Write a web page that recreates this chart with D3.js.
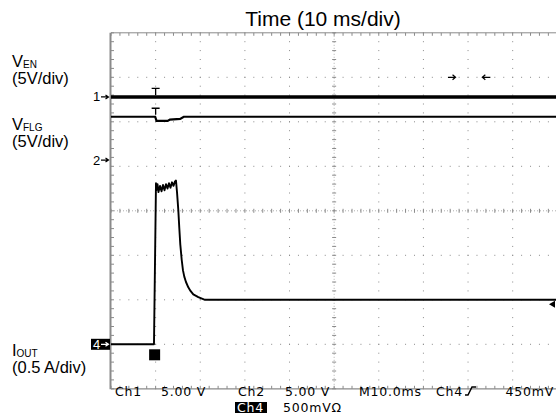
<!DOCTYPE html>
<html>
<head>
<meta charset="utf-8">
<script src="https://cdn.jsdelivr.net/npm/d3@7"></script>
<style>
  html, body { margin: 0; padding: 0; background: #fff; }
  svg { display: block; }
</style>
</head>
<body>
<svg id="chart" width="556" height="420"></svg>
<script>
// ---------------- DATA ----------------
const titleText = "Time (10 ms/div)";
const timeDomainMs = [-10, 90];          // 10 ms/div, 10 divisions, trigger at 0
const divDomain = [-4, 4];               // 8 vertical divisions

// Channel labels
const chLabels = [
  { main: "V", sub: "EN",  scale: "(5V/div)" },
  { main: "V", sub: "FLG", scale: "(5V/div)" },
  { main: "I", sub: "OUT", scale: "(0.5 A/div)" }
];

// Channel settings (reference level in divisions, units per division)
const ch1Ref = 2.56, ch1PerDiv = 5;      // V_EN
const ch2Ref = 1.14, ch2PerDiv = 5;      // V_FLG
const ch4Ref = -3.0, ch4PerDiv = 0.5;    // I_OUT

// V_EN trace (time ms, volts)
const venTime = [-10, 0, 90];
const venVolt = [0.0, 0.0, 0.0];

// V_FLG trace (time ms, volts)
const vflgTime = [-10, -0.1, 0.2, 2.7, 3.2, 5.5, 6.3, 90];
const vflgVolt = [4.87, 4.87, 4.40, 4.40, 4.55, 4.62, 4.87, 4.87];

// I_OUT trace (time ms, amps)
const ioutTime = [-10, -0.37, 0.08, 0.15, 0.42, 0.64, 0.98, 1.32, 1.65, 1.99, 2.32, 2.66, 2.99, 3.33, 3.67, 4.0, 4.34, 4.56,
                  4.79, 5.08, 5.30, 5.53, 5.84, 6.13, 6.42, 6.80, 7.32, 7.81, 8.44, 9.56, 11.06, 90];
const ioutAmp  = [0, 0, 1.81, 1.73, 1.80, 1.71, 1.78, 1.72, 1.79, 1.73, 1.80, 1.75, 1.81, 1.76, 1.82, 1.78, 1.83, 1.84,
                  1.71, 1.51, 1.31, 1.12, 0.95, 0.83, 0.76, 0.70, 0.64, 0.60, 0.56, 0.53, 0.50, 0.50];

const trigLevelA = 0.45;
const trigTimeMs = 0;

// Readout text
const readoutRow1 = [
  { t: "Ch1", x: 115 }, { t: "5.00 V", x: 161 }, { t: "Ch2", x: 238 }, { t: "5.00 V", x: 285 },
  { t: "M10.0ms", x: 359 }, { t: "Ch4", x: 436 }
];
const readoutTrigLevel = "450mV";
const readoutRow2 = [ { t: "Ch4", x: 237, boxed: true }, { t: "500mV\u03A9", x: 283 } ];

// ---------------- DRAW ----------------
const svg = d3.select("#chart");
const x = d3.scaleLinear().domain(timeDomainMs).range([111, 557.3]);
const y = d3.scaleLinear().domain(divDomain).range([388.8, 32.8]);
const gridCol = "#8a8a8a";

const g = svg.append("g");

// Dotted interior grid lines
const xDivs = d3.range(-10, 91, 10);
const yDivs = d3.range(-4, 5, 1);
const yMinor = d3.range(-4, 4.001, 0.2);
const xMinor = d3.range(-10, 90.001, 2);

xDivs.filter(t => t !== -10 && t !== 40 && t !== 90).forEach(t => {
  g.selectAll(null).data(yMinor).enter().append("rect")
    .attr("x", x(t) - 0.5).attr("y", d => y(d) - 0.5).attr("width", 1).attr("height", 1)
    .attr("fill", gridCol);
});
yDivs.filter(d => d !== -4 && d !== 0 && d !== 4).forEach(d => {
  g.selectAll(null).data(xMinor).enter().append("rect")
    .attr("x", t => x(t) - 0.5).attr("y", y(d) - 0.5).attr("width", 1).attr("height", 1)
    .attr("fill", gridCol);
});

// Center crosshair (dense dotted + tick marks)
g.append("line").attr("x1", x(40)).attr("x2", x(40)).attr("y1", y(4)).attr("y2", y(-4))
  .attr("stroke", "#b0b0b0").attr("stroke-width", 1).attr("stroke-dasharray", "1,2");
g.append("line").attr("x1", x(-10)).attr("x2", x(90)).attr("y1", y(0)).attr("y2", y(0))
  .attr("stroke", "#b0b0b0").attr("stroke-width", 1).attr("stroke-dasharray", "1,2");
g.selectAll(null).data(yMinor).enter().append("line")
  .attr("x1", x(40) - 2).attr("x2", x(40) + 2).attr("y1", d => y(d)).attr("y2", d => y(d))
  .attr("stroke", gridCol).attr("stroke-width", 1);
g.selectAll(null).data(xMinor).enter().append("line")
  .attr("x1", t => x(t)).attr("x2", t => x(t)).attr("y1", y(0) - 2).attr("y2", y(0) + 2)
  .attr("stroke", gridCol).attr("stroke-width", 1);

// Borders with ticks
g.append("line").attr("x1", x(-10)).attr("x2", x(90)).attr("y1", y(4)).attr("y2", y(4))
  .attr("stroke", gridCol).attr("stroke-width", 1);
g.append("line").attr("x1", x(-10)).attr("x2", x(90)).attr("y1", y(-4)).attr("y2", y(-4))
  .attr("stroke", gridCol).attr("stroke-width", 1.2);
g.append("line").attr("x1", x(-10) - 0.5).attr("x2", x(-10) - 0.5).attr("y1", y(4)).attr("y2", y(-4) + 0.5)
  .attr("stroke", gridCol).attr("stroke-width", 2);
g.selectAll(null).data(xMinor).enter().append("line")
  .attr("x1", t => x(t)).attr("x2", t => x(t)).attr("y1", y(4)).attr("y2", y(4) + 3)
  .attr("stroke", gridCol);
g.selectAll(null).data(xMinor).enter().append("line")
  .attr("x1", t => x(t)).attr("x2", t => x(t)).attr("y1", y(-4)).attr("y2", y(-4) - 3)
  .attr("stroke", gridCol);
g.selectAll(null).data(yMinor).enter().append("line")
  .attr("x1", x(-10)).attr("x2", x(-10) + 3).attr("y1", d => y(d)).attr("y2", d => y(d))
  .attr("stroke", gridCol);

// Traces
const line = d3.line();
const ch1Pts = venTime.map((t, i) => [x(t), y(ch1Ref + venVolt[i] / ch1PerDiv)]);
const ch2Pts = vflgTime.map((t, i) => [x(t), y(ch2Ref + vflgVolt[i] / ch2PerDiv)]);
const ch4Pts = ioutTime.map((t, i) => [x(t), y(ch4Ref + ioutAmp[i] / ch4PerDiv)]);

svg.append("path").attr("d", line(ch1Pts)).attr("fill", "none").attr("stroke", "#000").attr("stroke-width", 3.5);
svg.append("path").attr("d", line(ch2Pts)).attr("fill", "none").attr("stroke", "#000").attr("stroke-width", 2.2);
svg.append("path").attr("d", line(ch4Pts)).attr("fill", "none").attr("stroke", "#000").attr("stroke-width", 1.9)
  .attr("stroke-linejoin", "round");

// Trigger "T" markers on ch1, ch2 (sitting on the trace level at trigger)
[y(ch1Ref + venVolt[1] / ch1PerDiv), y(ch2Ref + vflgVolt[1] / ch2PerDiv)].forEach(ty => {
  const tx = x(trigTimeMs);
  svg.append("path").attr("d", `M${tx - 4},${ty - 8.5}H${tx + 4}M${tx},${ty - 8.5}V${ty - 2}`)
    .attr("stroke", "#000").attr("stroke-width", 1.3).attr("fill", "none");
});
// ch4 trigger square marker
svg.append("rect").attr("x", x(trigTimeMs) - 6.5).attr("y", y(ch4Ref) + 5).attr("width", 11).attr("height", 11).attr("fill", "#000");

// Top horizontal arrows
const ay = y(3);
svg.append("path").attr("d", `M${x(65.5)},${ay}H${x(67.2)}M${x(67.2) - 3},${ay - 2.5}L${x(67.2)},${ay}L${x(67.2) - 3},${ay + 2.5}`)
  .attr("stroke", "#000").attr("stroke-width", 1.2).attr("fill", "none");
svg.append("path").attr("d", `M${x(75.0)},${ay}H${x(73.2)}M${x(73.2) + 3},${ay - 2.5}L${x(73.2)},${ay}L${x(73.2) + 3},${ay + 2.5}`)
  .attr("stroke", "#000").attr("stroke-width", 1.2).attr("fill", "none");

// Trigger level marker on right
const tly = y(ch4Ref + trigLevelA / ch4PerDiv);
svg.append("path").attr("d", `M549,${tly}L555,${tly - 3.5}L555,${tly + 3.5}Z`).attr("fill", "#000");

// Channel reference markers
function refMarker(label, ref, boxed) {
  const my = y(ref);
  if (boxed) {
    svg.append("rect").attr("x", 91).attr("y", my - 5.5).attr("width", 19).attr("height", 11).attr("fill", "#000");
  }
  const col = boxed ? "#fff" : "#000";
  svg.append("text").attr("x", 93).attr("y", my + 4.5).text(label)
    .attr("font-family", "Liberation Sans, Arial, sans-serif").attr("font-size", 13).attr("fill", col);
  svg.append("path").attr("d", `M101,${my}H108.5M105.5,${my - 2}L108.5,${my}L105.5,${my + 2}`)
    .attr("stroke", col).attr("stroke-width", 1.2).attr("fill", "none");
}
refMarker("1", ch1Ref, false);
refMarker("2", ch2Ref, false);
refMarker("4", ch4Ref, true);

// Title
svg.append("text").attr("x", 323).attr("y", 26).attr("text-anchor", "middle")
  .attr("font-family", "Liberation Sans, Arial, sans-serif").attr("font-size", 21).text(titleText);

// Left channel labels
const labelPos = [{ y1: 66.5, y2: 84 }, { y1: 129.5, y2: 147 }, { y1: 356, y2: 372.5 }];
chLabels.forEach((lab, i) => {
  const t = svg.append("text").attr("x", 12).attr("y", labelPos[i].y1)
    .attr("font-family", "Liberation Sans, Arial, sans-serif").attr("font-size", 16.5);
  t.append("tspan").text(lab.main);
  t.append("tspan").attr("font-size", 10).attr("dy", 1).text(lab.sub);
  svg.append("text").attr("x", 12).attr("y", labelPos[i].y2)
    .attr("font-family", "Liberation Sans, Arial, sans-serif").attr("font-size", 16.5).text(lab.scale);
});

// Readout
const roFont = "DejaVu Sans, sans-serif";
readoutRow1.forEach(r => {
  svg.append("text").attr("x", r.x).attr("y", 396).text(r.t)
    .attr("font-family", roFont).attr("font-size", 12.5).attr("letter-spacing", 0.8);
});
svg.append("text").attr("x", 554).attr("y", 396).attr("text-anchor", "end").text(readoutTrigLevel)
  .attr("font-family", roFont).attr("font-size", 12.5).attr("letter-spacing", 0.8);
// rising edge symbol
svg.append("path").attr("d", "M465,395H468L472,387H476").attr("stroke", "#000").attr("stroke-width", 1.5).attr("fill", "none");
readoutRow2.forEach(r => {
  if (r.boxed) {
    svg.append("rect").attr("x", r.x - 2).attr("y", 402).attr("width", 32).attr("height", 11).attr("fill", "#000");
  }
  svg.append("text").attr("x", r.x).attr("y", 412).text(r.t)
    .attr("font-family", roFont).attr("font-size", 12.5).attr("letter-spacing", 0.8)
    .attr("fill", r.boxed ? "#fff" : "#000");
});
</script>
</body>
</html>
